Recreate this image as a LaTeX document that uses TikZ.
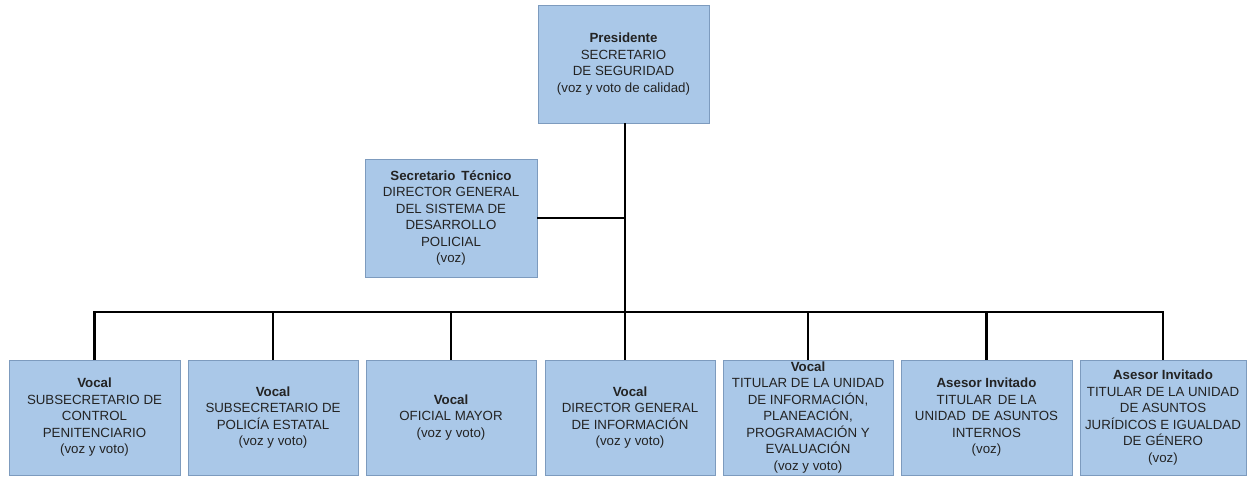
\documentclass[tikz,border=0pt]{standalone}
\usepackage{fontspec}
\setmainfont{Liberation Sans}
\definecolor{boxfill}{RGB}{170,200,232}
\definecolor{boxline}{RGB}{125,155,190}
\definecolor{txt}{RGB}{35,35,35}
\begin{document}
\begin{tikzpicture}[x=1pt,y=-1pt,
  orgbox/.style={draw=boxline, fill=boxfill, line width=0.8pt, rectangle, inner sep=0pt,
    align=center, text=txt, font=\fontsize{13.3}{16.5}\selectfont},
  link/.style={line width=2.6pt, black}]
\useasboundingbox (0,0) rectangle (1247,477);
\node[orgbox, minimum width=171pt, minimum height=118pt] (pres) at (623.5,64)
  {\textbf{Presidente}\\SECRETARIO\\DE SEGURIDAD\\(voz y voto de calidad)};
\node[orgbox, minimum width=172pt, minimum height=118pt] (sec) at (451,218)
  {\textbf{Secretario\, Técnico}\\DIRECTOR GENERAL\\DEL SISTEMA DE\\DESARROLLO\\POLICIAL\\(voz)};
\node[orgbox, minimum width=171pt, minimum height=115pt] (b1) at (94.5,417.5)
  {\textbf{Vocal}\\SUBSECRETARIO DE\\CONTROL\\PENITENCIARIO\\(voz y voto)};
\node[orgbox, minimum width=170pt, minimum height=115pt] (b2) at (273,417.5)
  {\textbf{Vocal}\\SUBSECRETARIO DE\\POLICÍA ESTATAL\\(voz y voto)};
\node[orgbox, minimum width=170pt, minimum height=115pt] (b3) at (451,417.5)
  {\textbf{Vocal}\\OFICIAL MAYOR\\(voz y voto)};
\node[orgbox, minimum width=170pt, minimum height=115pt] (b4) at (630,417.5)
  {\textbf{Vocal}\\DIRECTOR GENERAL\\DE INFORMACIÓN\\(voz y voto)};
\node[orgbox, minimum width=170pt, minimum height=115pt] (b5) at (808,417.5)
  {\textbf{Vocal}\\TITULAR DE LA UNIDAD\\DE INFORMACIÓN,\\PLANEACIÓN,\\PROGRAMACIÓN Y\\EVALUACIÓN\\(voz y voto)};
\node[orgbox, minimum width=171pt, minimum height=115pt] (b6) at (986.5,417.5)
  {\textbf{Asesor Invitado}\\TITULAR\, DE LA\\UNIDAD\, DE ASUNTOS\\INTERNOS\\(voz)};
\node[orgbox, minimum width=166pt, minimum height=115pt] (b7) at (1163,417.5)
  {\textbf{Asesor Invitado}\\TITULAR DE LA UNIDAD\\DE ASUNTOS\\JURÍDICOS E IGUALDAD\\DE GÉNERO\\(voz)};
\coordinate (bus) at (625,312);
\coordinate (top) at (625,123);
\draw[link] (top) -- (top |- b4.north);
\draw[link] (sec.east) -- (sec.east -| top);
\draw[link] (b1.north) -- (b1.north |- bus) -- (b7.north |- bus) -- (b7.north);
\foreach \b in {b2,b3,b5,b6}{
  \draw[link] (\b.north) -- (\b.north |- bus);
}
\end{tikzpicture}
\end{document}
